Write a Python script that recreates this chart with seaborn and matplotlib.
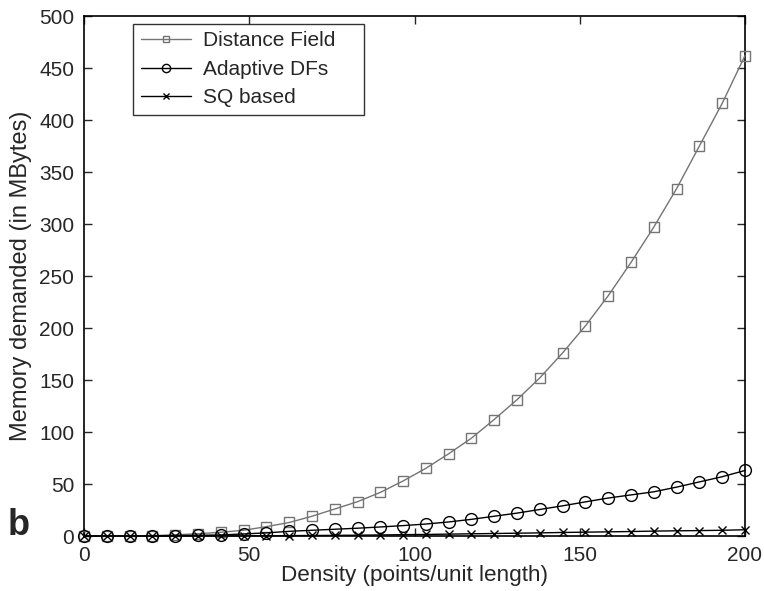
import numpy as np
import pandas as pd
import matplotlib
matplotlib.use("Agg")
import matplotlib.pyplot as plt
import seaborn as sns

density = [0, 6.9, 13.8, 20.7, 27.6, 34.5, 41.4, 48.3, 55.2, 62.1, 69.0, 75.9, 82.8, 89.7, 96.6,
           103.4, 110.3, 117.2, 124.1, 131.0, 137.9, 144.8, 151.7, 158.6, 165.5, 172.4, 179.3,
           186.2, 193.1, 200.0]
distance_field = [0, 0, 0.1, 0.4, 1.1, 2.2, 3.6, 5.5, 9, 13, 19, 26, 33, 42, 53,
                  65, 79, 94, 112, 131, 152, 176, 202, 231, 263, 297, 334, 375, 416, 462]
adaptive_dfs = [0, 0, 0, 0.2, 0.4, 0.7, 1.0, 2.0, 3.0, 4.5, 5.5, 6.5, 7.5, 8.7, 10,
                11.5, 13.5, 16, 19, 22, 25.5, 29, 32.8, 36.5, 39.5, 42.5, 47, 52, 57, 63]
sq_based = [0, 0, 0, 0, 0.05, 0.1, 0.1, 0.15, 0.25, 0.35, 0.5, 0.6, 0.8, 1.0, 1.3,
            1.5, 1.8, 2.1, 2.4, 2.7, 3.0, 3.4, 3.7, 4.0, 4.3, 4.7, 5.0, 5.2, 5.5, 6.0]
series_names = ["Distance Field", "Adaptive DFs", "SQ based"]

df = pd.DataFrame({
    "x": density * 3,
    "y": distance_field + adaptive_dfs + sq_based,
    "series": [series_names[0]] * len(density) + [series_names[1]] * len(density) + [series_names[2]] * len(density),
})

sns.set_style("ticks")
plt.rcParams["font.family"] = ["Liberation Sans", "DejaVu Sans"]

W, H = 764, 591
L, R, T, B = 84, 745, 16, 536
fig = plt.figure(figsize=(W / 100, H / 100), dpi=100)
ax = fig.add_axes([L / W, 1 - B / H, (R - L) / W, (B - T) / H])

styles = {
    "Distance Field": dict(color="#747474", marker="s", ms=7),
    "Adaptive DFs": dict(color="black", marker="o", ms=8.5),
    "SQ based": dict(color="black", marker="x", ms=6),
}
for name in series_names:
    st = styles[name]
    sub = df[df["series"] == name]
    sns.lineplot(data=sub, x="x", y="y", ax=ax, color=st["color"], lw=1.0,
                 marker=st["marker"], markersize=st["ms"], markerfacecolor="none",
                 markeredgecolor=st["color"], markeredgewidth=1.0, label=name,
                 clip_on=False, zorder=3)

ax.set_xlim(0, 200)
ax.set_ylim(0, 500)
ax.set_xticks([0, 50, 100, 150, 200])
ax.set_yticks(np.arange(0, 501, 50))
ax.tick_params(direction="in", length=6, width=1, top=True, right=True, labelsize=15)
ax.tick_params(axis="y", pad=7)
ax.tick_params(axis="x", pad=7)
for sp in ax.spines.values():
    sp.set_visible(True)
    sp.set_linewidth(1.2)
    sp.set_color("black")
ax.set_xlabel("Density (points/unit length)", fontsize=16.2, labelpad=0)
ax.set_ylabel("Memory demanded (in MBytes)", fontsize=17, labelpad=5)

ax_w, ax_h = R - L, B - T
x0 = (133 - L) / ax_w
y1 = (B - 24) / ax_h
y0 = (B - 111) / ax_h
leg = ax.legend(loc="upper left", bbox_to_anchor=(x0, y0, (364 - 133) / ax_w, y1 - y0),
                mode="expand", borderaxespad=0, fontsize=15, frameon=True,
                fancybox=False, edgecolor="black", handlelength=2.4, handletextpad=0.6,
                labelspacing=0.45, borderpad=0.36, markerscale=0.7)
leg.get_frame().set_linewidth(1.0)

fig.text(8 / W, 1 - 535 / H, "b", fontsize=26, fontweight="bold", ha="left", va="baseline")

fig.savefig("out.png", dpi=100)
